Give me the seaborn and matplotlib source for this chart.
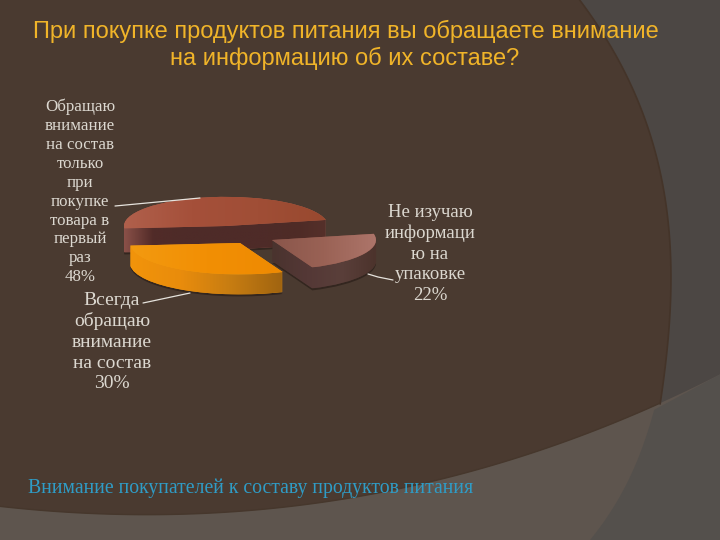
import matplotlib
matplotlib.use("Agg")
import matplotlib.pyplot as plt
from matplotlib.patches import PathPatch
from matplotlib.path import Path
import seaborn as sns
import numpy as np

# chart data
shares = [48, 30, 22]
slice_labels = [
    "Обращаю\nвнимание\nна состав\nтолько\nпри\nпокупке\nтовара в\nпервый\nраз\n48%",
    "Всегда\nобращаю\nвнимание\nна состав\n30%",
    "Не изучаю\nинформаци\nю на\nупаковке\n22%",
]
title_lines = ["При покупке продуктов питания вы обращаете внимание", "на информацию об их составе?"]
caption_text = "Внимание покупателей к составу продуктов питания"

# slice layout, in pixels of the picture
slice_centers = [(226, 226), (240, 243), (272, 240)]  # big, orange, pink
slice_radius = [102, 110, 104]
slice_depth = [24, 20, 21]
start_angle = 12
Y_SCALE = 3.5


def yy(y_px):
    return (540 - y_px) * Y_SCALE


def fit_x(pts, y):
    p = np.polyfit([a[1] for a in pts], [a[0] for a in pts], 3)
    return np.polyval(p, y)


def fit_y(pts, x):
    p = np.polyfit([a[0] for a in pts], [a[1] for a in pts], 3)
    return np.polyval(p, x)


def draw_background(ax):
    arc = [(577, 0), (600, 24), (620, 62), (640, 107), (657, 165), (668, 224), (672, 276), (668, 345), (660, 402)]
    low = [(0, 507), (180, 512), (275, 508), (367, 497), (459, 477), (569, 437), (660, 402), (720, 376)]
    arc2 = [(590, 540), (627, 483), (653, 414), (667, 358)]

    xs = np.linspace(0, 720, 200)
    low_y = fit_y(low, xs)
    ax.fill_between(xs, yy(540), yy(0), color="#4c4744", lw=0, zorder=0)
    ax.fill_between(xs, yy(540), yy(low_y), color="#5e554e", lw=0, zorder=0.1)

    ys = np.linspace(fit_y(low, 645), 540, 60)
    xr = fit_x(arc2, ys)
    ax.fill(np.r_[xr, 720, 720], yy(np.r_[ys, 540, fit_y(low, 720)]), color="#54504c", lw=0, zorder=0.2)

    ys = np.linspace(0, 404, 120)
    ax_x = fit_x(arc, ys)
    lows = np.linspace(ax_x[-1], 0, 120)
    ax.fill(np.r_[0, ax_x, lows], yy(np.r_[0, ys, fit_y(low, lows)]), color="#4a3a30", lw=0, zorder=0.3)
    ax.plot(ax_x, yy(ys), color="#443429", lw=1.2, zorder=0.4)
    ax.plot(lows, yy(fit_y(low, lows)), color="#46372c", lw=1.0, zorder=0.4)


def wedge_at(ax, i, dy, color):
    wedges, texts = ax.pie(shares, startangle=start_angle, radius=slice_radius[i],
                           center=(slice_centers[i][0], yy(slice_centers[i][1] + dy)))
    for t in texts:
        t.remove()
    for k, w in enumerate(wedges):
        if k != i:
            w.remove()
    w = wedges[i]
    w.set_facecolor(color)
    w.set_edgecolor("none")
    w.set_linewidth(0)
    return w


def fill_gradient(ax, paths, colors, zorder, vertical=False):
    cmap = sns.blend_palette(colors, n_colors=128, as_cmap=True)
    path = Path.make_compound_path(*paths)
    box = path.get_extents()
    grad = np.linspace(0, 1, 256).reshape(-1, 1) if vertical else np.linspace(0, 1, 256).reshape(1, -1)
    im = ax.imshow(grad, cmap=cmap, aspect="auto", origin="upper",
                   extent=(box.x0, box.x1, box.y0, box.y1), zorder=zorder, interpolation="bilinear")
    clip = PathPatch(path, transform=ax.transData, fc="none", ec="none")
    ax.add_patch(clip)
    im.set_clip_path(clip)


def draw_slice(ax, i, side_colors, top_colors, base_z):
    # soft shadow under the slice
    sh = wedge_at(ax, i, slice_depth[i] + 2, "#33261f")
    sh.set_zorder(base_z)
    side_paths = []
    for dy in np.arange(slice_depth[i], 0, -1.0):
        w = wedge_at(ax, i, dy, side_colors[0])
        w.set_zorder(base_z + 0.1)
        side_paths.append(w.get_path())
    fill_gradient(ax, side_paths, side_colors, base_z + 0.2)
    top = wedge_at(ax, i, 0, top_colors[0])
    top.set_zorder(base_z + 0.3)
    fill_gradient(ax, [top.get_path()], top_colors, base_z + 0.4)


sns.set_theme(style="white")
plt.rcParams["font.family"] = ["Liberation Sans", "DejaVu Sans"]

fig = plt.figure(figsize=(7.2, 5.4), dpi=100)
ax = fig.add_axes([0, 0, 1, 1])

draw_background(ax)

# back to front: big slice, pink slice, orange slice
draw_slice(ax, 0, ["#8a5048", "#512b28", "#4e2b28", "#4e2b28", "#4e2b28", "#4e2b28", "#4e2b26", "#55302a"],
           ["#b0604c", "#a5503a", "#a04e36", "#98492f"], 2)
draw_slice(ax, 2, ["#4a332e", "#543836", "#5a3f3a", "#4c332c"],
           ["#8a564b", "#9a6255", "#ad756a"], 3)
draw_slice(ax, 1, ["#f2940a", "#e98c0c", "#c67c12", "#a06410"],
           ["#f39a10", "#f28f04", "#ee8a02"], 4)

# leader lines
ax.plot([115, 200], [yy(206), yy(198)], color="#e6e3dd", lw=0.9, zorder=6)
ax.plot([368, 378, 393], [yy(274), yy(277), yy(280)], color="#e6e3dd", lw=0.9, zorder=6)
ax.plot([143, 190], [yy(303), yy(293)], color="#e6e3dd", lw=0.9, zorder=6)

# labels
label_color = "#dcd8d0"
serif = ["Liberation Serif", "DejaVu Serif"]
ax.text(80, yy(192), slice_labels[0], ha="center", va="center", color=label_color,
        fontsize=12.2, family=serif, linespacing=1.24, zorder=7)
ax.text(430, yy(254), slice_labels[2], ha="center", va="center", color=label_color,
        fontsize=13.5, family=serif, linespacing=1.28, zorder=7)
ax.text(112, yy(342), slice_labels[1], ha="center", va="center", color=label_color,
        fontsize=14, family=serif, linespacing=1.28, zorder=7)

ax.text(346, yy(31), title_lines[0], ha="center", va="center", color="#f0b429", fontsize=17, zorder=7)
ax.text(345, yy(58), title_lines[1], ha="center", va="center", color="#f0b429", fontsize=17, zorder=7)
ax.text(28, yy(488), caption_text, ha="left", va="center", color="#2f9cc6",
        fontsize=14.2, family=serif, zorder=7)

ax.set_xlim(0, 720)
ax.set_ylim(0, 540 * Y_SCALE)
ax.set_aspect("auto")
ax.axis("off")

plt.savefig("out.png", dpi=100)
